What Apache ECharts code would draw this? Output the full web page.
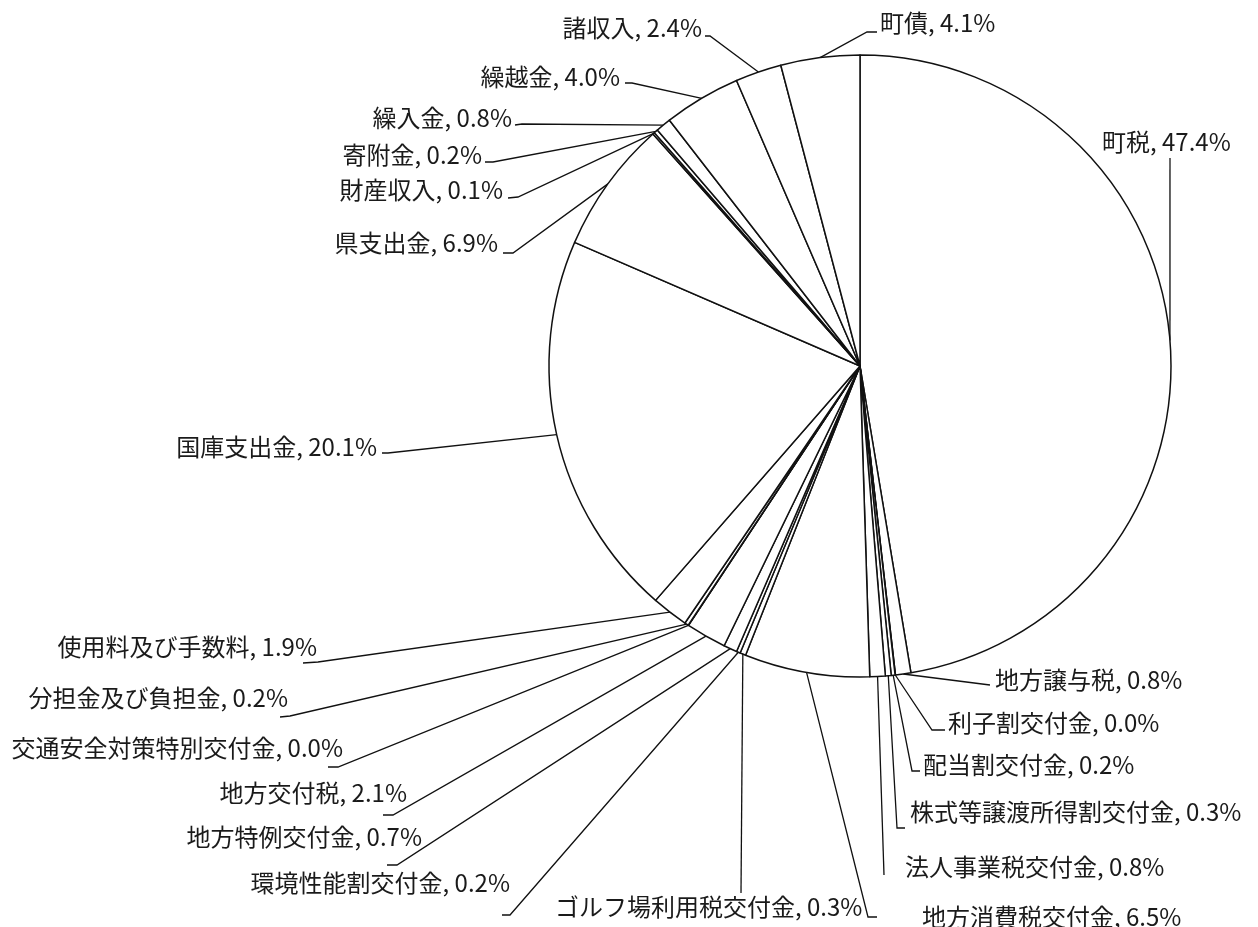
<!DOCTYPE html>
<html>
<head>
<meta charset="utf-8">
<script src="https://cdn.jsdelivr.net/npm/echarts@6/dist/echarts.min.js"></script>
<style>
  html, body { margin: 0; padding: 0; background: #fff; }
  #chart { width: 1258px; height: 927px; }
</style>
</head>
<body>
<div id="chart"></div>
<script>
// 歳入の内訳 (%)
var names = [
  "町税", "地方譲与税", "利子割交付金", "配当割交付金", "株式等譲渡所得割交付金",
  "法人事業税交付金", "地方消費税交付金", "ゴルフ場利用税交付金", "環境性能割交付金",
  "地方特例交付金", "地方交付税", "交通安全対策特別交付金", "分担金及び負担金",
  "使用料及び手数料", "国庫支出金", "県支出金", "財産収入", "寄附金", "繰入金",
  "繰越金", "諸収入", "町債"
];
var values = [
  47.4, 0.8, 0.02, 0.2, 0.3,
  0.8, 6.5, 0.3, 0.2,
  0.7, 2.1, 0.02, 0.2,
  1.9, 20.1, 6.9, 0.1, 0.2, 0.8,
  4.0, 2.4, 4.1
];

// ラベルの置き場所 (align, x, y) と引出線の折れ点・終点
var labelSpots = [
  ["left", 1102, 142, [1170, 158], [1170, 158]],
  ["left", 995, 680, [990, 685], [990, 685]],
  ["left", 948, 723, [932, 730], [945, 730]],
  ["left", 923, 765, [912, 771], [920, 771]],
  ["left", 910, 812, [897, 828], [905, 828]],
  ["left", 905, 867, [884, 875], [884, 875]],
  ["left", 922, 917, [868, 917], [877, 917]],
  ["left", 555, 907, [741, 893], [741, 893]],
  ["right", 510, 883, [510, 915], [502, 915]],
  ["right", 422, 837, [397, 865], [387, 865]],
  ["right", 407, 793, [393, 815], [383, 815]],
  ["right", 343, 748, [338, 767], [328, 767]],
  ["right", 288, 698, [290, 716], [280, 717]],
  ["right", 317, 647, [318, 662], [303, 663]],
  ["right", 377, 447, [388, 453], [382, 453]],
  ["right", 498, 243, [513, 253], [503, 253]],
  ["right", 503, 190, [518, 197], [508, 198]],
  ["right", 482, 155, [493, 162], [485, 162]],
  ["right", 512, 118, [522, 124], [515, 125]],
  ["right", 620, 77, [632, 83], [625, 83]],
  ["right", 702, 28, [710, 36], [705, 36]],
  ["left", 880, 23, [867, 32], [877, 32]]
];

var pieCenter = [860, 366];
var pieRadius = 311;

var chart = echarts.init(document.getElementById("chart"));

var pieData = [];
for (var i = 0; i < names.length; i++) {
  pieData.push({ name: names[i], value: values[i] });
}

// 扇形の外周の中点 (フォールバック用)
function edgePoint(idx) {
  var total = 0, before = 0;
  for (var k = 0; k < values.length; k++) {
    total += values[k];
    if (k < idx) before += values[k];
  }
  var a = (before + values[idx] / 2) / total * Math.PI * 2;
  return [pieCenter[0] + pieRadius * Math.sin(a), pieCenter[1] - pieRadius * Math.cos(a)];
}

var option = {
  animation: false,
  backgroundColor: "#fff",
  series: [
    {
      type: "pie",
      center: pieCenter,
      radius: pieRadius,
      startAngle: 90,
      clockwise: true,
      avoidLabelOverlap: false,
      itemStyle: {
        color: "#fff",
        borderColor: "#111",
        borderWidth: 1.5
      },
      label: {
        show: true,
        position: "outside",
        color: "#1a1a1a",
        fontSize: 24,
        fontFamily: "'Noto Sans CJK JP', 'Noto Sans', sans-serif",
        formatter: function (p) {
          return p.name + ", " + p.value.toFixed(1) + "%";
        }
      },
      labelLine: {
        show: true,
        length: 10,
        length2: 10,
        lineStyle: { color: "#111", width: 1.3 }
      },
      labelLayout: function (params) {
        var s = labelSpots[params.dataIndex];
        var pts = params.labelLinePoints;
        var anchor = pts && pts.length ? pts[0] : edgePoint(params.dataIndex);
        return {
          x: s[1],
          y: s[2],
          align: s[0],
          verticalAlign: "middle",
          labelLinePoints: [anchor, s[3], s[4]]
        };
      },
      emphasis: { disabled: true },
      data: pieData
    }
  ]
};

option && chart.setOption(option);
</script>
</body>
</html>
